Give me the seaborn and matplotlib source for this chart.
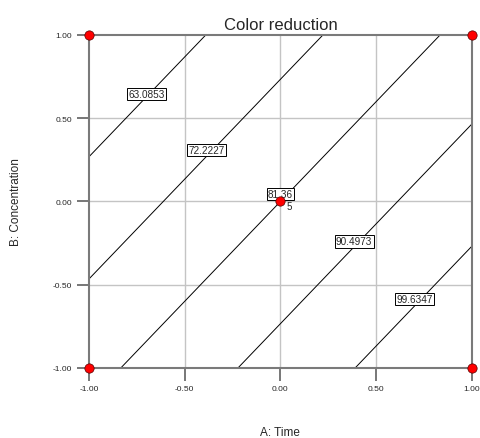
import numpy as np
import matplotlib
matplotlib.use("Agg")
import matplotlib.pyplot as plt
import seaborn as sns

# Factor range (coded units) and response at the four factorial corners
time_coded = [-1.0, 1.0]
conc_coded = [-1.0, 1.0]
# rows: B = -1, B = 1 ; cols: A = -1, A = 1
color_red = [[78.88, 108.74],
             [53.98, 83.84]]

# contour levels shown on the chart
levels = [63.0853, 72.2227, 81.36, 90.4973, 99.6347]
level_text = ["63.0853", "72.2227", "81.36", "90.4973", "99.6347"]
label_pos = [(-0.70, 0.645), (-0.385, 0.31), (0.0, 0.045), (0.385, -0.24), (0.70, -0.585)]

# design points
design_A = [-1, 1, -1, 1, 0]
design_B = [-1, -1, 1, 1, 0]
center_reps = "5"

ticks = [-1.0, -0.5, 0.0, 0.5, 1.0]
tick_labels = ["-1.00", "-0.50", "0.00", "0.50", "1.00"]

sns.set_style("white")
plt.rcParams['font.family'] = ['Liberation Sans', 'DejaVu Sans']

fig = plt.figure(figsize=(4.81, 4.39), dpi=100)
ax = fig.add_axes([0.185, 0.1595, 0.796, 0.7585])

# grid
for t in ticks[1:-1]:
    ax.axvline(t, color='#c4c4c4', lw=1.0, zorder=0)
    ax.axhline(t, color='#c4c4c4', lw=1.0, zorder=0)

cs = ax.contour(time_coded, conc_coded, np.array(color_red), levels=levels,
                colors='black', linewidths=0.7, zorder=2)

for txt, (x, y) in zip(level_text, label_pos):
    ax.text(x, y, txt, fontsize=7.2, ha='center', va='center', zorder=4,
            bbox=dict(boxstyle='square,pad=0.12', fc='white', ec='black', lw=0.7))

sns.scatterplot(x=design_A, y=design_B, ax=ax, color='red', s=45,
                edgecolor='#550000', linewidth=0.5, zorder=5, clip_on=False)
ax.text(0.03, -0.03, center_reps, fontsize=7, ha='left', va='center', zorder=6)

ax.set_xlim(-1, 1)
ax.set_ylim(-1, 1)
ax.set_xticks(ticks)
ax.set_yticks(ticks)
ax.set_xticklabels(tick_labels)
ax.set_yticklabels(tick_labels)
ax.tick_params(axis='both', direction='out', length=9, width=1.2, color='#606060',
               labelsize=6, pad=3, bottom=True, left=True)
for s in ax.spines.values():
    s.set_color('#7a7a7a')
    s.set_linewidth(1.5)

ax.set_title("Color reduction", fontsize=12, pad=4)
ax.set_xlabel("A: Time", fontsize=8.5)
ax.set_ylabel("B: Concentration", fontsize=8.5)
ax.xaxis.set_label_coords(0.5, -0.175)
ax.yaxis.set_label_coords(-0.175, 0.5)

fig.savefig("out.png", dpi=100)
